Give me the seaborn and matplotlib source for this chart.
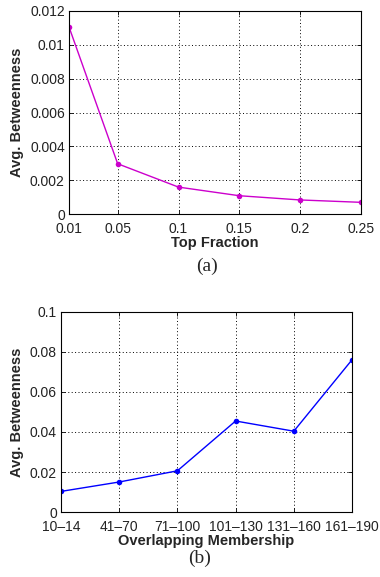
import numpy as np
import pandas as pd
import matplotlib.pyplot as plt
import seaborn as sns

plt.switch_backend('Agg')
sns.set_theme(style="white")
plt.rcParams['font.family'] = ['Liberation Sans', 'DejaVu Sans']

# Datos (a)
top_fraction = [0.01, 0.05, 0.1, 0.15, 0.2, 0.25]
betw_a = [0.01106, 0.00297, 0.00159, 0.00108, 0.00083, 0.00069]

# Datos (b)
membership = ["10-14", "41-70", "71-100", "101-130", "131-160", "161-190"]
betw_b = [0.0103, 0.0150, 0.0206, 0.0455, 0.0404, 0.0761]

df_a = pd.DataFrame({"x": top_fraction, "y": betw_a})
df_b = pd.DataFrame({"x": np.arange(len(membership)), "y": betw_b})

fig = plt.figure(figsize=(3.8, 5.77), dpi=100)
W, H = 380, 577
ax1 = fig.add_axes([69 / W, 1 - 214 / H, (361 - 69) / W, (214 - 11) / H])
ax2 = fig.add_axes([61 / W, 1 - 512 / H, (352 - 61) / W, (512 - 312) / H])

TICK_FONT = ['Liberation Sans Narrow', 'Liberation Sans']


def style_axes(ax):
    for s in ax.spines.values():
        s.set_color("black")
        s.set_linewidth(0.8)
    ax.grid(True, color="black", linestyle=(0, (1, 2.5)), linewidth=0.7)
    ax.tick_params(direction="in", length=3, width=0.6, colors="black",
                   labelsize=10, top=True, right=True, bottom=True, left=True)
    ax.tick_params(axis="x", pad=5.5)
    ax.tick_params(axis="y", pad=3)
    for lab in ax.get_xticklabels() + ax.get_yticklabels():
        lab.set_family(TICK_FONT)
        lab.set_color("#222222")
    ax.set_axisbelow(True)


sns.lineplot(data=df_a, x="x", y="y", ax=ax1, color="#CC00CC", marker="o",
             markersize=4, markeredgewidth=0, linewidth=1.0)
ax1.set_xlim(0.01, 0.25)
ax1.set_ylim(0, 0.012)
ax1.set_xticks(top_fraction)
ax1.set_xticklabels(["0.01", "0.05", "0.1", "0.15", "0.2", "0.25"])
ax1.set_yticks([0, 0.002, 0.004, 0.006, 0.008, 0.01, 0.012])
ax1.set_yticklabels(["0", "0.002", "0.004", "0.006", "0.008", "0.01", "0.012"])
ax1.set_xlabel("Top Fraction", fontsize=10.5, fontweight="bold", labelpad=0)
ax1.set_ylabel("Avg. Betweenness", fontsize=10.5, fontweight="bold", labelpad=4)
style_axes(ax1)

sns.lineplot(data=df_b, x="x", y="y", ax=ax2, color="#0000FF", marker="o",
             markersize=4, markeredgewidth=0, linewidth=1.0)
ax2.set_xlim(0, len(membership) - 1)
ax2.set_ylim(0, 0.1)
ax2.set_xticks(range(len(membership)))
ax2.set_xticklabels([m.replace("-", "\u2013") for m in membership])
ax2.set_yticks([0, 0.02, 0.04, 0.06, 0.08, 0.1])
ax2.set_yticklabels(["0", "0.02", "0.04", "0.06", "0.08", "0.1"])
ax2.set_xlabel("Overlapping Membership", fontsize=10.5, fontweight="bold", labelpad=0)
ax2.set_ylabel("Avg. Betweenness", fontsize=10.5, fontweight="bold", labelpad=4)
style_axes(ax2)

fig.text(207 / W, 1 - 266 / H, "(a)", family="Liberation Serif", fontsize=14,
         ha="center", va="center")
fig.text(200 / W, 1 - 558 / H, "(b)", family="Liberation Serif", fontsize=14,
         ha="center", va="center")

fig.savefig("out.png", dpi=100)
